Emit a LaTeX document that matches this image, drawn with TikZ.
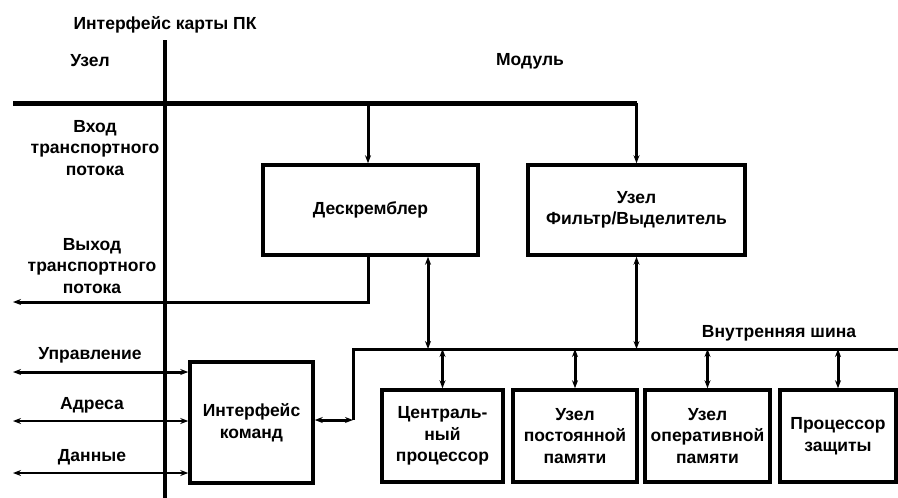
\documentclass[tikz,border=0pt]{standalone}
\usepackage{fontspec}
\setmainfont{Liberation Sans}
\usetikzlibrary{arrows.meta}

\begin{document}
\begin{tikzpicture}[x=1pt,y=-1pt,
      every node/.style={font=\bfseries\fontsize{17.5}{21.5}\selectfont},
      block/.style={rectangle,draw,line width=3.5pt,align=center,inner sep=0pt},
      caption/.style={align=center,inner sep=0pt},
      rule/.style={line width=4.5pt},
      bus/.style={line width=5pt},
      inbus/.style={line width=3pt},
      feed/.style={-{Stealth[length=8pt,width=6pt]},line width=3pt},
      link/.style={{Stealth[length=8pt,width=6pt]}-{Stealth[length=8pt,width=6pt]},line width=3pt},
      wire/.style={link,line width=2.5pt},
    ]
    \useasboundingbox (0,0) rectangle (898,498);
    % blocks of the module
    \node[block,minimum width=215,minimum height=90] (Descrambler) at (370.5,210) {Дескремблер};
    \node[block,minimum width=217,minimum height=90] (Filter) at (636.5,210) {Узел\\Фильтр/Выделитель};
    \node[block,minimum width=123,minimum height=121] (Command) at (251.5,422.5) {Интерфейс\\команд};
    \node[block,minimum width=121,minimum height=92] (CPU) at (442.5,436) {Централь-\\ный\\процессор};
    \node[block,minimum width=124,minimum height=92] (ROM) at (575,436) {Узел\\постоянной\\памяти};
    \node[block,minimum width=125,minimum height=92] (RAM) at (707.5,436) {Узел\\оперативной\\памяти};
    \node[block,minimum width=116,minimum height=92] (Security) at (838,436) {Процессор\\защиты};
    % texts
    \node[caption] (card) at (165,25) {Интерфейс карты ПК};
    \node[caption] (host) at (90,61) {Узел};
    \node[caption] (module) at (530,61) {Модуль};
    \node[caption] (ts in) at (95,148) {Вход\\транспортного\\потока};
    \node[caption] (ts out) at (92,266) {Выход\\транспортного\\потока};
    \node[caption] (control) at (90,355) {Управление};
    \node[caption] (address) at (92,405) {Адреса};
    \node[caption] (data) at (92,457) {Данные};
    \node[caption] (bus name) at (779,333) {Внутренняя шина};
    % card interface
    \coordinate (card top) at (165,40);
    \coordinate (card bottom) at (165,498);
    \draw[rule] (card top) -- (card bottom);
    % transport stream in
    \coordinate (in left) at (13,103);
    \coordinate (in turn) at (Filter.north |- in left);
    \coordinate (in tap) at (368,103);
    \draw[bus] (in left) -- (in turn);
    \draw[feed] (in turn) -- (Filter.north);
    \draw[feed] (in tap) -- (Descrambler.north -| in tap);
    % transport stream out
    \coordinate (out tap) at (Descrambler.south -| in tap);
    \coordinate (out end) at (13,302);
    \draw[feed] (out tap) |- (out end);
    % internal bus
    \coordinate (bus turn) at (353,420);
    \coordinate (bus right) at (898,349);
    \coordinate (descr tap) at (428,349);
    \draw[inbus] (bus turn) |- (bus right);
    \draw[link] (Command.east |- bus turn) -- (bus turn);
    \draw[link] (Descrambler.south -| descr tap) -- (descr tap);
    \draw[link] (Filter.south) -- (Filter.south |- bus right);
    \foreach \unit in {CPU,ROM,RAM,Security}
      \draw[link] (\unit.north |- bus right) -- (\unit.north);
    % host lines
    \coordinate (control end) at (13,372);
    \coordinate (address end) at (13,421);
    \coordinate (data end) at (13,473);
    \draw[link] (control end) -- (control end -| Command.west);
    \draw[wire] (address end) -- (address end -| Command.west);
    \draw[wire] (data end) -- (data end -| Command.west);
  \end{tikzpicture}
\end{document}
